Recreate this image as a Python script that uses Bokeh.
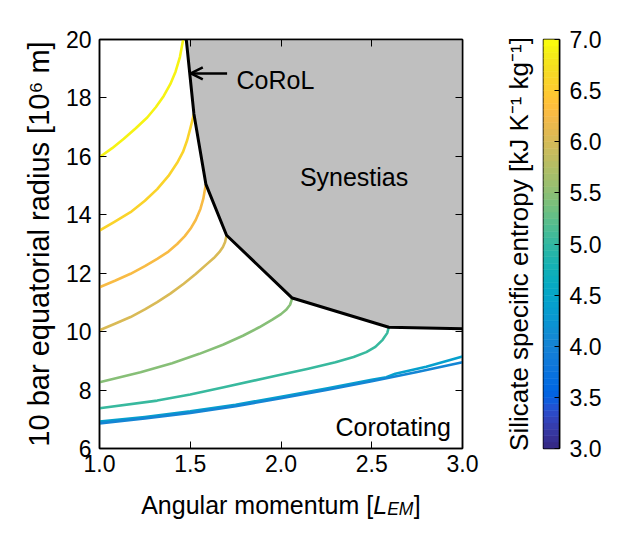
import numpy as np
from bokeh.plotting import figure
from bokeh.models import (Range1d, LinearAxis, FixedTicker, PrintfTickFormatter,
                          CustomJSTickFormatter, Label, Arrow, OpenHead)
from bokeh.core.properties import value
from bokeh.layouts import row, column
from bokeh.embed import file_html
from bokeh.resources import INLINE

# ---------------- data ----------------
x_ticks = [1.0, 1.5, 2.0, 2.5, 3.0]
y_ticks = [6, 8, 10, 12, 14, 16, 18, 20]
cbar_ticks = [3.0, 3.5, 4.0, 4.5, 5.0, 5.5, 6.0, 6.5, 7.0]
s_low, s_high = 3.0, 7.0

# CoRoL boundary (black line) between corotating bodies and synestias
corol_x = [1.478, 1.520, 1.586, 1.700, 2.062, 2.594, 3.0]
corol_y = [20.0, 17.46, 15.05, 13.30, 11.15, 10.15, 10.10]

# silicate specific entropy of each contour [kJ/K/kg]
entropy = [6.95, 6.65, 6.3, 6.05, 5.5, 5.0, 4.4, 4.0]

c1_x = [1.0, 1.07, 1.134, 1.2, 1.263, 1.31, 1.354, 1.39, 1.419, 1.443, 1.461]
c1_y = [15.97, 16.28, 16.6, 16.96, 17.33, 17.68, 18.07, 18.47, 18.9, 19.4, 20.0]

c2_x = [1.0, 1.08, 1.171, 1.25, 1.318, 1.38, 1.428, 1.46, 1.483, 1.50, 1.511, 1.520]
c2_y = [13.46, 13.75, 14.09, 14.48, 14.88, 15.33, 15.78, 16.15, 16.55, 16.95, 17.22, 17.46]

c3_x = [1.0, 1.085, 1.171, 1.25, 1.318, 1.38, 1.428, 1.47, 1.501, 1.53, 1.556, 1.572, 1.586]
c3_y = [11.52, 11.74, 11.98, 12.24, 12.49, 12.74, 13.0, 13.27, 13.52, 13.82, 14.2, 14.55, 15.05]

c4_x = [1.0, 1.085, 1.171, 1.25, 1.318, 1.39, 1.464, 1.53, 1.593, 1.63, 1.66, 1.68, 1.692, 1.700]
c4_y = [10.05, 10.27, 10.50, 10.76, 11.01, 11.3, 11.64, 11.97, 12.32, 12.52, 12.72, 12.9, 13.07, 13.30]

c5_x = [1.0, 1.226, 1.4, 1.55, 1.68, 1.79, 1.88, 1.95, 2.0, 2.03, 2.05, 2.062]
c5_y = [8.27, 8.61, 8.92, 9.24, 9.55, 9.86, 10.15, 10.4, 10.6, 10.76, 10.92, 11.15]

c6_x = [1.0, 1.318, 1.5, 1.685, 1.96, 2.15, 2.3, 2.4, 2.47, 2.52, 2.56, 2.585, 2.594]
c6_y = [7.38, 7.64, 7.85, 8.10, 8.47, 8.73, 8.95, 9.13, 9.3, 9.48, 9.72, 9.95, 10.15]

c7_x = [1.0, 1.25, 1.5, 1.75, 2.0, 2.25, 2.5, 2.58, 2.63, 2.8, 3.0]
c7_y = [6.92, 7.08, 7.27, 7.5, 7.77, 8.05, 8.35, 8.44, 8.56, 8.8, 9.15]

c8_x = [1.0, 1.25, 1.5, 1.75, 2.0, 2.25, 2.5, 2.75, 3.0]
c8_y = [6.86, 7.03, 7.22, 7.45, 7.72, 8.0, 8.3, 8.62, 8.95]

contours_x = [c1_x, c2_x, c3_x, c4_x, c5_x, c6_x, c7_x, c8_x]
contours_y = [c1_y, c2_y, c3_y, c4_y, c5_y, c6_y, c7_y, c8_y]

# ---------------- colour map (parula) ----------------
PARULA = [
    (0.2081, 0.1663, 0.5292), (0.2116, 0.1898, 0.5777), (0.2123, 0.2138, 0.6270), (0.2081, 0.2386, 0.6771),
    (0.1959, 0.2645, 0.7279), (0.1707, 0.2919, 0.7792), (0.1253, 0.3242, 0.8303), (0.0591, 0.3598, 0.8683),
    (0.0117, 0.3875, 0.8820), (0.0060, 0.4086, 0.8828), (0.0165, 0.4266, 0.8786), (0.0329, 0.4430, 0.8720),
    (0.0498, 0.4586, 0.8641), (0.0629, 0.4737, 0.8554), (0.0723, 0.4887, 0.8467), (0.0779, 0.5040, 0.8384),
    (0.0793, 0.5200, 0.8312), (0.0749, 0.5375, 0.8263), (0.0641, 0.5570, 0.8240), (0.0488, 0.5772, 0.8228),
    (0.0343, 0.5966, 0.8199), (0.0265, 0.6137, 0.8135), (0.0239, 0.6287, 0.8038), (0.0231, 0.6418, 0.7913),
    (0.0228, 0.6535, 0.7768), (0.0267, 0.6642, 0.7607), (0.0384, 0.6743, 0.7436), (0.0590, 0.6838, 0.7254),
    (0.0843, 0.6928, 0.7062), (0.1133, 0.7015, 0.6859), (0.1453, 0.7098, 0.6646), (0.1801, 0.7177, 0.6424),
    (0.2178, 0.7250, 0.6193), (0.2586, 0.7317, 0.5954), (0.3022, 0.7376, 0.5712), (0.3482, 0.7424, 0.5473),
    (0.3953, 0.7459, 0.5244), (0.4420, 0.7481, 0.5033), (0.4871, 0.7491, 0.4840), (0.5300, 0.7491, 0.4661),
    (0.5709, 0.7485, 0.4494), (0.6099, 0.7473, 0.4337), (0.6473, 0.7456, 0.4188), (0.6834, 0.7435, 0.4044),
    (0.7184, 0.7411, 0.3905), (0.7525, 0.7384, 0.3768), (0.7858, 0.7356, 0.3633), (0.8185, 0.7327, 0.3498),
    (0.8507, 0.7299, 0.3360), (0.8824, 0.7274, 0.3217), (0.9139, 0.7258, 0.3063), (0.9450, 0.7261, 0.2886),
    (0.9739, 0.7314, 0.2666), (0.9938, 0.7455, 0.2403), (0.9990, 0.7653, 0.2164), (0.9955, 0.7861, 0.1967),
    (0.9880, 0.8066, 0.1794), (0.9789, 0.8271, 0.1633), (0.9697, 0.8481, 0.1475), (0.9626, 0.8705, 0.1309),
    (0.9589, 0.8949, 0.1132), (0.9598, 0.9218, 0.0948), (0.9661, 0.9514, 0.0755), (0.9763, 0.9831, 0.0538),
]
palette = ["#%02x%02x%02x" % tuple(int(round(c * 255)) for c in rgb) for rgb in PARULA]


def s_color(s):
    i = int(round((s - s_low) / (s_high - s_low) * (len(palette) - 1)))
    return palette[max(0, min(len(palette) - 1, i))]


FONT = "Liberation Sans"
TICK_FS = "23px"
TOP_H = 490          # height of the plot row; the x-axis title strip sits below
STRIP_H = 540 - TOP_H

# ---------------- main panel ----------------
p = figure(width=480, height=TOP_H, x_range=Range1d(1, 3), y_range=Range1d(6, 20),
           output_backend="svg", toolbar_location=None,
           min_border_left=99, min_border_right=18, min_border_top=39, min_border_bottom=42)
p.grid.visible = False
p.outline_line_color = "black"
p.outline_line_width = 1.5
p.outline_line_alpha = 1.0
p.background_fill_color = "white"
p.border_fill_color = "white"


def style_axis(ax, ticks, fmt, show_labels, tick_len=7):
    ax.ticker = FixedTicker(ticks=ticks)
    ax.major_tick_in = tick_len
    ax.major_tick_out = 0
    ax.minor_tick_in = 0
    ax.minor_tick_out = 0
    ax.major_tick_line_color = "black"
    ax.major_tick_line_width = 1
    ax.axis_line_color = "black"
    ax.axis_line_width = 1.5
    ax.major_label_text_font = FONT
    ax.major_label_text_color = "black"
    ax.major_label_text_font_size = TICK_FS
    if show_labels:
        ax.formatter = PrintfTickFormatter(format=fmt)
    else:
        ax.formatter = CustomJSTickFormatter(code="return ''")
        ax.major_label_standoff = 0


style_axis(p.xaxis[0], x_ticks, "%.1f", True)
p.xaxis[0].major_label_standoff = 6
style_axis(p.yaxis[0], y_ticks, "%d", True)
p.yaxis[0].major_label_standoff = 8
p.yaxis[0].axis_label = "10 bar equatorial radius [10\u2076 m]"
p.yaxis[0].axis_label_text_font = FONT
p.yaxis[0].axis_label_text_font_style = "normal"
p.yaxis[0].axis_label_text_font_size = "29px"
p.yaxis[0].axis_label_text_color = "black"
p.yaxis[0].axis_label_standoff = 8

ax_top = LinearAxis()
style_axis(ax_top, x_ticks, "%.1f", False)
p.add_layout(ax_top, "above")
ax_right = LinearAxis()
style_axis(ax_right, y_ticks, "%d", False)
p.add_layout(ax_right, "right")

# synestia region
p.patch(corol_x + [3.0], corol_y + [20.0], fill_color="#bfbfbf", line_color=None)

# entropy contours
for cx, cy, s in zip(contours_x, contours_y, entropy):
    p.line(cx, cy, line_color=s_color(s), line_width=2.6, line_join="round")

# CoRoL boundary
p.line(corol_x, corol_y, line_color="black", line_width=3)

# annotations
p.add_layout(Arrow(end=OpenHead(size=12, line_width=2.5, line_color="black"),
                   x_start=1.703, y_start=18.84, x_end=1.503, y_end=18.84,
                   line_width=2.5, line_color="black"))
ann = dict(text_font=FONT, text_font_size="25px", text_color="black",
           text_baseline="alphabetic", text_align="left")
p.add_layout(Label(x=1.755, y=18.597, text="CoRoL", **ann))
p.add_layout(Label(x=2.104, y=15.288, text="Synestias", **ann))
p.add_layout(Label(x=2.300, y=6.729, text="Corotating", **ann))

# ---------------- colour bar panel ----------------
pc = figure(width=150, height=TOP_H, x_range=Range1d(0, 1), y_range=Range1d(s_low, s_high),
            output_backend="svg", toolbar_location=None,
            x_axis_location=None, y_axis_location="right",
            min_border_left=63, min_border_right=71, min_border_top=39, min_border_bottom=42)
pc.grid.visible = False
pc.outline_line_color = "black"
pc.outline_line_width = 1.5
pc.outline_line_alpha = 1.0
pc.background_fill_color = "white"
pc.border_fill_color = "white"

n = len(palette)
edges = [s_low + (s_high - s_low) * i / n for i in range(n + 1)]
pc.quad(left=0, right=1, bottom=edges[:-1], top=edges[1:], fill_color=palette,
        line_color=palette, line_width=0.6)

style_axis(pc.yaxis[0], cbar_ticks, "%.1f", True, tick_len=5)
pc.yaxis[0].major_label_standoff = 10

ax_cl = LinearAxis(ticker=FixedTicker(ticks=[]))
ax_cl.axis_line_color = None
ax_cl.major_tick_in = 0
ax_cl.major_tick_out = 0
ax_cl.minor_tick_in = 0
ax_cl.minor_tick_out = 0
ax_cl.major_label_standoff = 0
ax_cl.axis_label = "Silicate specific entropy [kJ K\u207b\u00b9 kg\u207b\u00b9]"
ax_cl.axis_label_text_font = FONT
ax_cl.axis_label_text_font_style = "normal"
ax_cl.axis_label_text_font_size = "26px"
ax_cl.axis_label_text_color = "black"
ax_cl.axis_label_standoff = 10
pc.add_layout(ax_cl, "left")

# ---------------- x-axis title strip (italic L with subscript EM) ----------------
ps = figure(width=630, height=STRIP_H, x_range=Range1d(0, 630), y_range=Range1d(STRIP_H, 0),
            output_backend="svg", toolbar_location=None,
            x_axis_location=None, y_axis_location=None,
            min_border_left=0, min_border_right=0, min_border_top=0, min_border_bottom=0)
ps.grid.visible = False
ps.outline_line_color = None
ps.background_fill_color = "white"
ps.border_fill_color = "white"

base_x, base_y = 140.7, 14
ps.text(x=[base_x], y=[base_y], text=["Angular momentum ["], text_font=value(FONT),
        text_font_size="25px", text_color="black", text_baseline="alphabetic", text_align="left")
ps.text(x=[base_x + 232], y=[base_y], text=["L"], text_font=value(FONT), text_font_style="italic",
        text_font_size="25px", text_color="black", text_baseline="alphabetic", text_align="left")
ps.text(x=[base_x + 246], y=[base_y + 4], text=["EM"], text_font=value(FONT), text_font_style="italic",
        text_font_size="17.5px", text_color="black", text_baseline="alphabetic", text_align="left")
ps.text(x=[base_x + 272.5], y=[base_y], text=["]"], text_font=value(FONT),
        text_font_size="25px", text_color="black", text_baseline="alphabetic", text_align="left")

layout = column(row(p, pc), ps)
open("out.html", "w").write(file_html(layout, INLINE))
